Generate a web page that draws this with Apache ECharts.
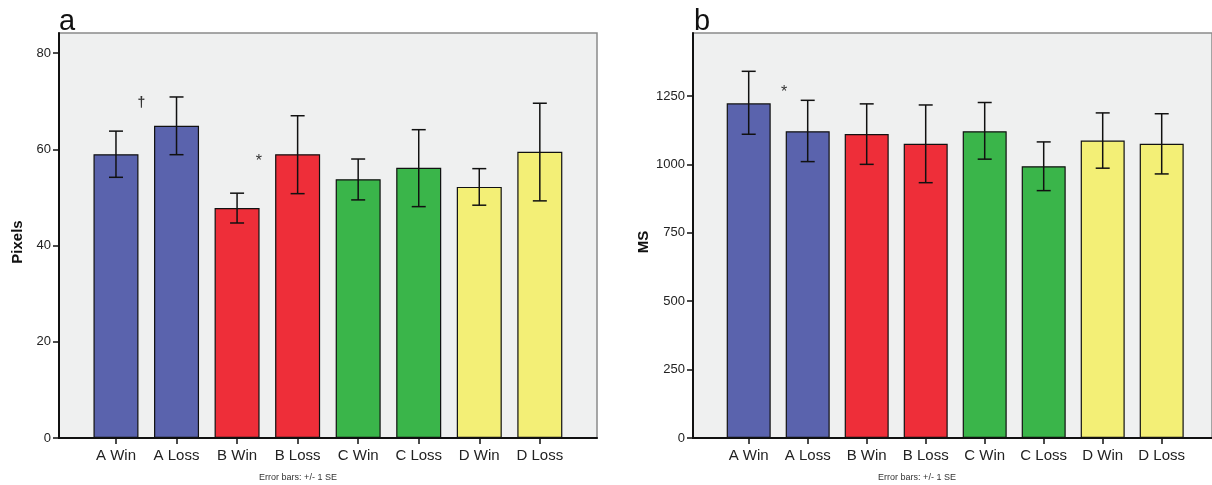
<!DOCTYPE html>
<html><head><meta charset="utf-8">
<script src="https://cdn.jsdelivr.net/npm/echarts@6/dist/echarts.min.js"></script>
<style>html,body{margin:0;padding:0;background:#fff}#c{width:1212px;height:485px}</style>
</head><body><div id="c"></div>
<script>
const categories = ['A Win','A Loss','B Win','B Loss','C Win','C Loss','D Win','D Loss'];
const barColors = ['#5a63ad','#5a63ad','#ee2e39','#ee2e39','#3ab54a','#3ab54a','#f3ef76','#f3ef76'];
const pixelsMean = [59.0, 64.9, 47.8, 59.0, 53.8, 56.2, 52.2, 59.5];
const pixelsLow  = [54.2, 58.9, 44.7, 50.8, 49.5, 48.1, 48.4, 49.3];
const pixelsHigh = [63.8, 70.9, 50.9, 67.0, 58.0, 64.1, 56.0, 69.6];
const msMean = [1223, 1121, 1111, 1075, 1121, 993, 1087, 1075];
const msLow  = [1110, 1010, 1000, 933, 1019, 904, 986, 965];
const msHigh = [1340, 1234, 1221, 1217, 1226, 1082, 1188, 1185];
const pixelsTicks = [0, 20, 40, 60, 80];
const msTicks = [0, 250, 500, 750, 1000, 1250];
// annotations: [category index, offset within category spacing, value, text]
const pixelsNotes = [[0, 0.42, 69.6, '†'], [2, 0.36, 57.4, '*']];
const msNotes = [[0, 0.6, 1261, '*']];

const FONT = 'Liberation Sans, Arial, sans-serif';
const chart = echarts.init(document.getElementById('c'), null, {renderer: 'canvas'});

function outerGrid(left, width) {
  return {left: left, top: 33, width: width, height: 405, show: true,
    backgroundColor: '#eff0f0', borderColor: '#8a8a8a', borderWidth: 1.5, containLabel: false};
}
function errRender(params, api) {
  const i = api.value(0);
  const lo = api.coord([i, api.value(1)]);
  const hi = api.coord([i, api.value(2)]);
  const cap = 7;
  const st = {stroke: '#111', lineWidth: 1.5};
  return {type: 'group', children: [
    {type: 'line', shape: {x1: lo[0], y1: lo[1], x2: hi[0], y2: hi[1]}, style: st},
    {type: 'line', shape: {x1: hi[0]-cap, y1: hi[1], x2: hi[0]+cap, y2: hi[1]}, style: st},
    {type: 'line', shape: {x1: lo[0]-cap, y1: lo[1], x2: lo[0]+cap, y2: lo[1]}, style: st}
  ]};
}
function noteRender(params, api) {
  const i = api.value(0);
  const p = api.coord([i, api.value(2)]);
  const w = api.size([1, 0])[0];
  const txt = api.value(3);
  const isDagger = txt === '†';
  return {type: 'text', x: p[0] + api.value(1) * w, y: p[1],
    style: {text: txt, fontSize: isDagger ? 14 : 16, fontWeight: isDagger ? 'bold' : 'normal',
      fontFamily: FONT, fill: '#333', align: 'center', verticalAlign: 'middle'}};
}

function yAxisVisible(gi, max, interval) {
  return {type: 'value', gridIndex: gi, min: 0, max: max, interval: interval,
    axisLine: {show: true, lineStyle: {color: '#111', width: 2}},
    axisTick: {show: true, length: 6, lineStyle: {color: '#111', width: 1.5}},
    axisLabel: {show: true, fontSize: 13, color: '#222', fontFamily: FONT, margin: 8, showMaxLabel: false,
      formatter: v => String(v)},
    splitLine: {show: false}};
}
function yAxisHidden(gi, max, interval) {
  return {type: 'value', gridIndex: gi, min: 0, max: max, interval: interval, show: false, splitLine: {show: false}};
}
function xOuter(gi) {
  return {type: 'value', gridIndex: gi, min: 0, max: 1, axisLine: {show: true, onZero: false, lineStyle: {color: '#111', width: 2}},
    axisTick: {show: false}, axisLabel: {show: false}, splitLine: {show: false}};
}
function xInner(gi) {
  return {type: 'category', gridIndex: gi, data: categories, boundaryGap: true,
    axisLine: {show: false}, axisTick: {show: true, alignWithLabel: true, length: 6, lineStyle: {color: '#111', width: 1.5}},
    axisLabel: {show: true, fontSize: 15, color: '#222', fontFamily: FONT, margin: 10, interval: 0}, splitLine: {show: false}};
}
function barData(vals) {
  return vals.map((v, i) => ({value: v, itemStyle: {color: barColors[i]}}));
}

const option = {
  animation: false,
  grid: [
    outerGrid(59, 538),
    {left: 85.7, top: 33, width: 484.4, height: 405},
    outerGrid(693, 524),
    {left: 719.2, top: 33, width: 472, height: 405}
  ],
  xAxis: [xOuter(0), xInner(1), xOuter(2), xInner(3)],
  yAxis: [
    yAxisVisible(0, 84.2, 20),
    yAxisHidden(1, 84.2, 20),
    yAxisVisible(2, 1480, 250),
    yAxisHidden(3, 1480, 250)
  ],
  graphic: [
    {type: 'text', left: 59, top: 7, style: {text: 'a', fontSize: 29, fontFamily: FONT, fill: '#111'}},
    {type: 'text', left: 694, top: 7, style: {text: 'b', fontSize: 29, fontFamily: FONT, fill: '#111'}},
    {type: 'text', x: 18, y: 242, rotation: Math.PI / 2,
      style: {text: 'Pixels', fontSize: 15, fontWeight: 'bold', fontFamily: FONT, fill: '#111', align: 'center', verticalAlign: 'middle'}},
    {type: 'text', x: 644, y: 242, rotation: Math.PI / 2,
      style: {text: 'MS', fontSize: 15, fontWeight: 'bold', fontFamily: FONT, fill: '#111', align: 'center', verticalAlign: 'middle'}},
    {type: 'text', x: 298, y: 478, style: {text: 'Error bars: +/- 1 SE', fontSize: 9, fontFamily: FONT, fill: '#333', align: 'center', verticalAlign: 'middle'}},
    {type: 'text', x: 917, y: 478, style: {text: 'Error bars: +/- 1 SE', fontSize: 9, fontFamily: FONT, fill: '#333', align: 'center', verticalAlign: 'middle'}}
  ],
  series: [
    {type: 'bar', xAxisIndex: 1, yAxisIndex: 1, barWidth: 45, data: barData(pixelsMean),
      itemStyle: {borderColor: '#111', borderWidth: 1.2}},
    {type: 'custom', xAxisIndex: 1, yAxisIndex: 1, renderItem: errRender,
      data: categories.map((c, i) => [i, pixelsLow[i], pixelsHigh[i]]), z: 5},
    {type: 'custom', xAxisIndex: 1, yAxisIndex: 1, renderItem: noteRender, data: pixelsNotes, z: 6},
    {type: 'bar', xAxisIndex: 3, yAxisIndex: 3, barWidth: 44, data: barData(msMean),
      itemStyle: {borderColor: '#111', borderWidth: 1.2}},
    {type: 'custom', xAxisIndex: 3, yAxisIndex: 3, renderItem: errRender,
      data: categories.map((c, i) => [i, msLow[i], msHigh[i]]), z: 5},
    {type: 'custom', xAxisIndex: 3, yAxisIndex: 3, renderItem: noteRender, data: msNotes, z: 6}
  ]
};
chart.setOption(option);
</script></body></html>
